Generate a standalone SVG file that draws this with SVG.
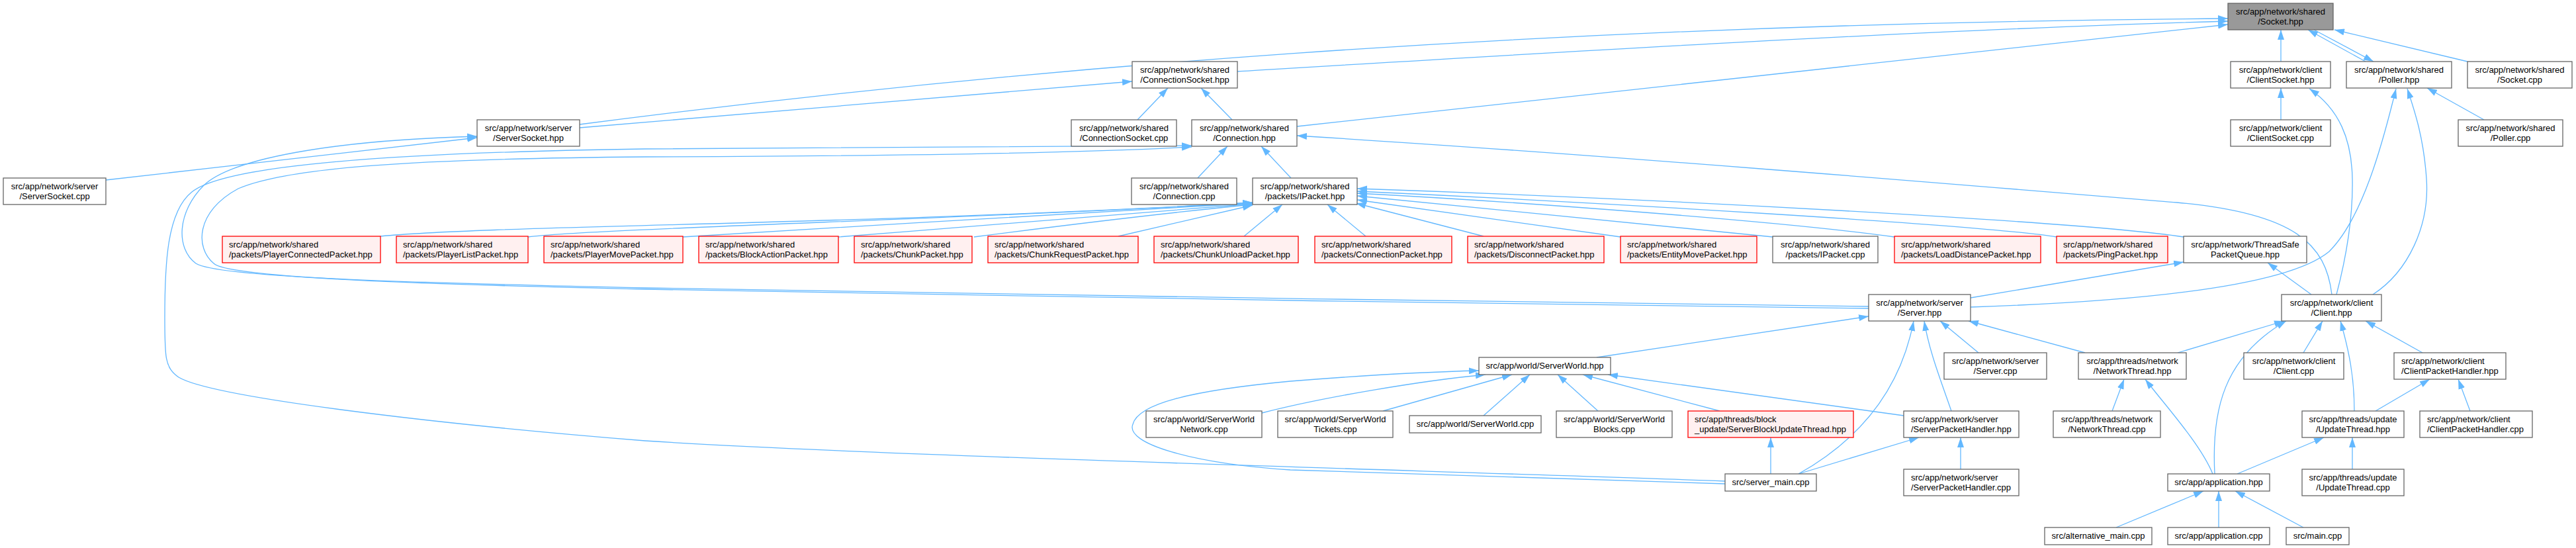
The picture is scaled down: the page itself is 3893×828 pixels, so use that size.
<svg xmlns="http://www.w3.org/2000/svg" width="3893" height="828" viewBox="0 0 3893 828">
<style>
.e{fill:none;stroke:#63B8FF;stroke-width:1.3;marker-end:url(#ah)}
.b{fill:#FFFFFF;stroke:#666666;stroke-width:1.3}
.r{fill:#FFF0F0;stroke:#FF0000;stroke-width:1.3}
.g{fill:#999999;stroke:#666666;stroke-width:1.3}
text{font-family:"Liberation Sans",Arial,Helvetica,sans-serif;font-size:13px;fill:#000}
.c{text-anchor:middle}
</style>
<defs>
<marker id="ah" markerWidth="15" markerHeight="10" refX="15" refY="5" orient="auto" markerUnits="userSpaceOnUse">
<path d="M0,0 L15,5 L0,10 z" fill="#63B8FF"/>
</marker>
</defs>
<rect width="3893" height="828" fill="#FFFFFF"/>
<g id="edges">
<path class="e" d="M876,188 C1500,107 2300,36 3367,28"/>
<path class="e" d="M876,193 L1711,123"/>
<path class="e" d="M1870,108 C2300,82 2900,45 3367,32"/>
<path class="e" d="M1960,191 L3367,37"/>
<path class="e" d="M3447,93 L3447,45"/>
<path class="e" d="M3575,93 L3488,45"/>
<path class="e" d="M3497,45 L3587,93"/>
<path class="e" d="M3729,93 L3528,45"/>
<path class="e" d="M3447,181 L3447,133"/>
<path class="e" d="M3531,445 C3548,380 3556,320 3555,270 C3554,210 3535,165 3490,134"/>
<path class="e" d="M3586,445 C3640,410 3672,340 3667,270 C3663,210 3650,170 3638,134"/>
<path class="e" d="M2978,464 C3250,455 3460,430 3520,380 C3570,330 3600,220 3621,134"/>
<path class="e" d="M3754,181 L3668,133"/>
<path class="e" d="M1719,181 L1765,133"/>
<path class="e" d="M1862,181 L1815,133"/>
<path class="e" d="M1810,269 L1855,221"/>
<path class="e" d="M1951,269 L1906,221"/>
<path class="e" d="M160,272 L721,208"/>
<path class="e" d="M3524,445 C3515,370 3470,322 3290,306 C3000,282 2400,232 1960,205"/>
<path class="e" d="M2978,450 L3300,396"/>
<path class="e" d="M3493,445 L3427,397"/>
<path class="e" d="M575,357 C750,340 1300,340 1893,306"/>
<path class="e" d="M798,358 C900,345 1500,330 1893,306"/>
<path class="e" d="M1032,358 C1300,340 1700,320 1893,307"/>
<path class="e" d="M1267,358 C1500,340 1750,318 1893,308"/>
<path class="e" d="M1472,358 C1650,335 1800,318 1893,309"/>
<path class="e" d="M1690,357 L1893,310"/>
<path class="e" d="M1880,357 L1938,309"/>
<path class="e" d="M2064,357 L2006,309"/>
<path class="e" d="M2242,357 L2049,307"/>
<path class="e" d="M2449,358 L2051,302"/>
<path class="e" d="M2679,358 L2051,296"/>
<path class="e" d="M2863,358 C2700,335 2300,305 2051,292"/>
<path class="e" d="M3108,358 C3000,340 2400,305 2051,289"/>
<path class="e" d="M3300,358 C3150,335 2500,300 2051,285"/>
<path class="e" d="M2824,463 C2300,457 1400,443 975,435 C650,428 330,420 296,398 C265,375 268,320 308,280 C350,240 500,212 721,206"/>
<path class="e" d="M2824,466 C2300,460 1400,446 975,437 C650,430 345,420 323,398 C295,375 295,320 360,285 C430,255 600,240 975,237 C1300,236 1600,233 1801,222"/>
<path class="e" d="M2607,727 C2200,712 1300,688 975,666 C650,640 320,600 270,570 C249,555 249,540 249,480 C249,400 252,320 290,290 C330,258 500,232 975,225 C1300,222 1600,222 1801,220"/>
<path class="e" d="M2607,731 C2300,722 2000,712 1950,710 C1800,700 1700,670 1712,641 C1720,610 1800,590 1950,576 C2050,568 2150,562 2235,560"/>
<path class="e" d="M2413,540 L2824,478"/>
<path class="e" d="M1907,624 C2000,600 2150,575 2245,566"/>
<path class="e" d="M2090,621 L2285,566"/>
<path class="e" d="M2242,628 L2312,566"/>
<path class="e" d="M2415,621 L2354,566"/>
<path class="e" d="M2599,621 L2392,566"/>
<path class="e" d="M2877,628 L2430,566"/>
<path class="e" d="M2676,716 L2676,661"/>
<path class="e" d="M2718,716 L2900,661"/>
<path class="e" d="M2718,716 C2800,670 2870,600 2892,485"/>
<path class="e" d="M2949,621 C2935,580 2915,530 2908,485"/>
<path class="e" d="M2990,533 L2932,485"/>
<path class="e" d="M3151,533 L2975,485"/>
<path class="e" d="M3291,533 L3452,485"/>
<path class="e" d="M3347,716 C3342,620 3360,540 3455,485"/>
<path class="e" d="M3481,533 L3510,485"/>
<path class="e" d="M3558,621 C3558,570 3550,530 3537,485"/>
<path class="e" d="M3661,533 L3575,485"/>
<path class="e" d="M3192,621 L3210,573"/>
<path class="e" d="M3344,716 C3325,670 3270,610 3242,573"/>
<path class="e" d="M3381,716 L3512,661"/>
<path class="e" d="M3555,709 L3555,661"/>
<path class="e" d="M3590,621 L3672,573"/>
<path class="e" d="M3733,621 L3715,573"/>
<path class="e" d="M3198,797 L3330,742"/>
<path class="e" d="M3353,797 L3353,742"/>
<path class="e" d="M3481,797 L3378,742"/>
<path class="e" d="M2963,709 L2963,661"/>
</g>
<g id="n_socket_hpp"><rect class="g" x="3367" y="5" width="159" height="40"/><text class="c" x="3446.5" y="21.5">src/app/network/shared</text><text class="c" x="3446.5" y="36.5">/Socket.hpp</text></g>
<g id="n_connectionsocket_hpp"><rect class="b" x="1711" y="93" width="159" height="40"/><text class="c" x="1790.5" y="109.5">src/app/network/shared</text><text class="c" x="1790.5" y="124.5">/ConnectionSocket.hpp</text></g>
<g id="n_clientsocket_hpp"><rect class="b" x="3371" y="93" width="151" height="40"/><text class="c" x="3446.5" y="109.5">src/app/network/client</text><text class="c" x="3446.5" y="124.5">/ClientSocket.hpp</text></g>
<g id="n_poller_hpp"><rect class="b" x="3546" y="93" width="159" height="40"/><text class="c" x="3625.5" y="109.5">src/app/network/shared</text><text class="c" x="3625.5" y="124.5">/Poller.hpp</text></g>
<g id="n_socket_cpp"><rect class="b" x="3729" y="93" width="158" height="40"/><text class="c" x="3808" y="109.5">src/app/network/shared</text><text class="c" x="3808" y="124.5">/Socket.cpp</text></g>
<g id="n_serversocket_hpp"><rect class="b" x="721" y="181" width="155" height="40"/><text class="c" x="798.5" y="197.5">src/app/network/server</text><text class="c" x="798.5" y="212.5">/ServerSocket.hpp</text></g>
<g id="n_connectionsocket_cpp"><rect class="b" x="1619" y="181" width="159" height="40"/><text class="c" x="1698.5" y="197.5">src/app/network/shared</text><text class="c" x="1698.5" y="212.5">/ConnectionSocket.cpp</text></g>
<g id="n_connection_hpp"><rect class="b" x="1801" y="181" width="159" height="40"/><text class="c" x="1880.5" y="197.5">src/app/network/shared</text><text class="c" x="1880.5" y="212.5">/Connection.hpp</text></g>
<g id="n_clientsocket_cpp"><rect class="b" x="3371" y="181" width="151" height="40"/><text class="c" x="3446.5" y="197.5">src/app/network/client</text><text class="c" x="3446.5" y="212.5">/ClientSocket.cpp</text></g>
<g id="n_poller_cpp"><rect class="b" x="3715" y="181" width="158" height="40"/><text class="c" x="3794" y="197.5">src/app/network/shared</text><text class="c" x="3794" y="212.5">/Poller.cpp</text></g>
<g id="n_serversocket_cpp"><rect class="b" x="5" y="269" width="155" height="40"/><text class="c" x="82.5" y="285.5">src/app/network/server</text><text class="c" x="82.5" y="300.5">/ServerSocket.cpp</text></g>
<g id="n_connection_cpp"><rect class="b" x="1710" y="269" width="159" height="40"/><text class="c" x="1789.5" y="285.5">src/app/network/shared</text><text class="c" x="1789.5" y="300.5">/Connection.cpp</text></g>
<g id="n_ipacket_hpp"><rect class="b" x="1893" y="269" width="158" height="40"/><text class="c" x="1972" y="285.5">src/app/network/shared</text><text class="c" x="1972" y="300.5">/packets/IPacket.hpp</text></g>
<g id="n_playerconnectedpacket_hpp"><rect class="r" x="336" y="357" width="239" height="40"/><text x="346" y="373.5">src/app/network/shared</text><text x="346" y="388.5">/packets/PlayerConnectedPacket.hpp</text></g>
<g id="n_playerlistpacket_hpp"><rect class="r" x="599" y="357" width="199" height="40"/><text x="609" y="373.5">src/app/network/shared</text><text x="609" y="388.5">/packets/PlayerListPacket.hpp</text></g>
<g id="n_playermovepacket_hpp"><rect class="r" x="822" y="357" width="210" height="40"/><text x="832" y="373.5">src/app/network/shared</text><text x="832" y="388.5">/packets/PlayerMovePacket.hpp</text></g>
<g id="n_blockactionpacket_hpp"><rect class="r" x="1056" y="357" width="211" height="40"/><text x="1066" y="373.5">src/app/network/shared</text><text x="1066" y="388.5">/packets/BlockActionPacket.hpp</text></g>
<g id="n_chunkpacket_hpp"><rect class="r" x="1291" y="357" width="178" height="40"/><text x="1301" y="373.5">src/app/network/shared</text><text x="1301" y="388.5">/packets/ChunkPacket.hpp</text></g>
<g id="n_chunkrequestpacket_hpp"><rect class="r" x="1493" y="357" width="227" height="40"/><text x="1503" y="373.5">src/app/network/shared</text><text x="1503" y="388.5">/packets/ChunkRequestPacket.hpp</text></g>
<g id="n_chunkunloadpacket_hpp"><rect class="r" x="1744" y="357" width="218" height="40"/><text x="1754" y="373.5">src/app/network/shared</text><text x="1754" y="388.5">/packets/ChunkUnloadPacket.hpp</text></g>
<g id="n_connectionpacket_hpp"><rect class="r" x="1987" y="357" width="207" height="40"/><text x="1997" y="373.5">src/app/network/shared</text><text x="1997" y="388.5">/packets/ConnectionPacket.hpp</text></g>
<g id="n_disconnectpacket_hpp"><rect class="r" x="2218" y="357" width="206" height="40"/><text x="2228" y="373.5">src/app/network/shared</text><text x="2228" y="388.5">/packets/DisconnectPacket.hpp</text></g>
<g id="n_entitymovepacket_hpp"><rect class="r" x="2449" y="357" width="206" height="40"/><text x="2459" y="373.5">src/app/network/shared</text><text x="2459" y="388.5">/packets/EntityMovePacket.hpp</text></g>
<g id="n_ipacket_cpp"><rect class="b" x="2679" y="357" width="159" height="40"/><text class="c" x="2758.5" y="373.5">src/app/network/shared</text><text class="c" x="2758.5" y="388.5">/packets/IPacket.cpp</text></g>
<g id="n_loaddistancepacket_hpp"><rect class="r" x="2863" y="357" width="221" height="40"/><text x="2873" y="373.5">src/app/network/shared</text><text x="2873" y="388.5">/packets/LoadDistancePacket.hpp</text></g>
<g id="n_pingpacket_hpp"><rect class="r" x="3108" y="357" width="168" height="40"/><text x="3118" y="373.5">src/app/network/shared</text><text x="3118" y="388.5">/packets/PingPacket.hpp</text></g>
<g id="n_threadsafepacketqueue_hpp"><rect class="b" x="3300" y="357" width="186" height="40"/><text class="c" x="3393" y="373.5">src/app/network/ThreadSafe</text><text class="c" x="3393" y="388.5">PacketQueue.hpp</text></g>
<g id="n_server_hpp"><rect class="b" x="2824" y="445" width="154" height="40"/><text class="c" x="2901" y="461.5">src/app/network/server</text><text class="c" x="2901" y="476.5">/Server.hpp</text></g>
<g id="n_client_hpp"><rect class="b" x="3448" y="445" width="151" height="40"/><text class="c" x="3523.5" y="461.5">src/app/network/client</text><text class="c" x="3523.5" y="476.5">/Client.hpp</text></g>
<g id="n_serverworld_hpp"><rect class="b" x="2235" y="540" width="199" height="26"/><text class="c" x="2334.5" y="557">src/app/world/ServerWorld.hpp</text></g>
<g id="n_server_cpp"><rect class="b" x="2938" y="533" width="155" height="40"/><text class="c" x="3015.5" y="549.5">src/app/network/server</text><text class="c" x="3015.5" y="564.5">/Server.cpp</text></g>
<g id="n_networkthread_hpp"><rect class="b" x="3141" y="533" width="163" height="40"/><text class="c" x="3222.5" y="549.5">src/app/threads/network</text><text class="c" x="3222.5" y="564.5">/NetworkThread.hpp</text></g>
<g id="n_client_cpp"><rect class="b" x="3391" y="533" width="151" height="40"/><text class="c" x="3466.5" y="549.5">src/app/network/client</text><text class="c" x="3466.5" y="564.5">/Client.cpp</text></g>
<g id="n_clientpackethandler_hpp"><rect class="b" x="3618" y="533" width="169" height="40"/><text x="3629" y="549.5">src/app/network/client</text><text x="3629" y="564.5">/ClientPacketHandler.hpp</text></g>
<g id="n_serverworldnetwork_cpp"><rect class="b" x="1732" y="621" width="175" height="40"/><text class="c" x="1819.5" y="637.5">src/app/world/ServerWorld</text><text class="c" x="1819.5" y="652.5">Network.cpp</text></g>
<g id="n_serverworldtickets_cpp"><rect class="b" x="1931" y="621" width="174" height="40"/><text class="c" x="2018" y="637.5">src/app/world/ServerWorld</text><text class="c" x="2018" y="652.5">Tickets.cpp</text></g>
<g id="n_serverworld_cpp"><rect class="b" x="2130" y="628" width="199" height="26"/><text class="c" x="2229.5" y="645">src/app/world/ServerWorld.cpp</text></g>
<g id="n_serverworldblocks_cpp"><rect class="b" x="2352" y="621" width="175" height="40"/><text class="c" x="2439.5" y="637.5">src/app/world/ServerWorld</text><text class="c" x="2439.5" y="652.5">Blocks.cpp</text></g>
<g id="n_serverblockupdatethread_hpp"><rect class="r" x="2551" y="621" width="250" height="40"/><text x="2561" y="637.5">src/app/threads/block</text><text x="2561" y="652.5">_update/ServerBlockUpdateThread.hpp</text></g>
<g id="n_serverpackethandler_hpp"><rect class="b" x="2877" y="621" width="174" height="40"/><text x="2888" y="637.5">src/app/network/server</text><text x="2888" y="652.5">/ServerPacketHandler.hpp</text></g>
<g id="n_networkthread_cpp"><rect class="b" x="3103" y="621" width="162" height="40"/><text class="c" x="3184" y="637.5">src/app/threads/network</text><text class="c" x="3184" y="652.5">/NetworkThread.cpp</text></g>
<g id="n_updatethread_hpp"><rect class="b" x="3479" y="621" width="154" height="40"/><text class="c" x="3556" y="637.5">src/app/threads/update</text><text class="c" x="3556" y="652.5">/UpdateThread.hpp</text></g>
<g id="n_clientpackethandler_cpp"><rect class="b" x="3657" y="621" width="170" height="40"/><text x="3668" y="637.5">src/app/network/client</text><text x="3668" y="652.5">/ClientPacketHandler.cpp</text></g>
<g id="n_server_main_cpp"><rect class="b" x="2607" y="716" width="138" height="26"/><text class="c" x="2676" y="733">src/server_main.cpp</text></g>
<g id="n_serverpackethandler_cpp"><rect class="b" x="2877" y="709" width="174" height="40"/><text x="2888" y="725.5">src/app/network/server</text><text x="2888" y="740.5">/ServerPacketHandler.cpp</text></g>
<g id="n_application_hpp"><rect class="b" x="3276" y="716" width="154" height="26"/><text class="c" x="3353" y="733">src/app/application.hpp</text></g>
<g id="n_updatethread_cpp"><rect class="b" x="3479" y="709" width="154" height="40"/><text class="c" x="3556" y="725.5">src/app/threads/update</text><text class="c" x="3556" y="740.5">/UpdateThread.cpp</text></g>
<g id="n_alternative_main_cpp"><rect class="b" x="3090" y="797" width="162" height="26"/><text class="c" x="3171" y="814">src/alternative_main.cpp</text></g>
<g id="n_application_cpp"><rect class="b" x="3276" y="797" width="154" height="26"/><text class="c" x="3353" y="814">src/app/application.cpp</text></g>
<g id="n_main_cpp"><rect class="b" x="3455" y="797" width="95" height="26"/><text class="c" x="3502.5" y="814">src/main.cpp</text></g>
</svg>
